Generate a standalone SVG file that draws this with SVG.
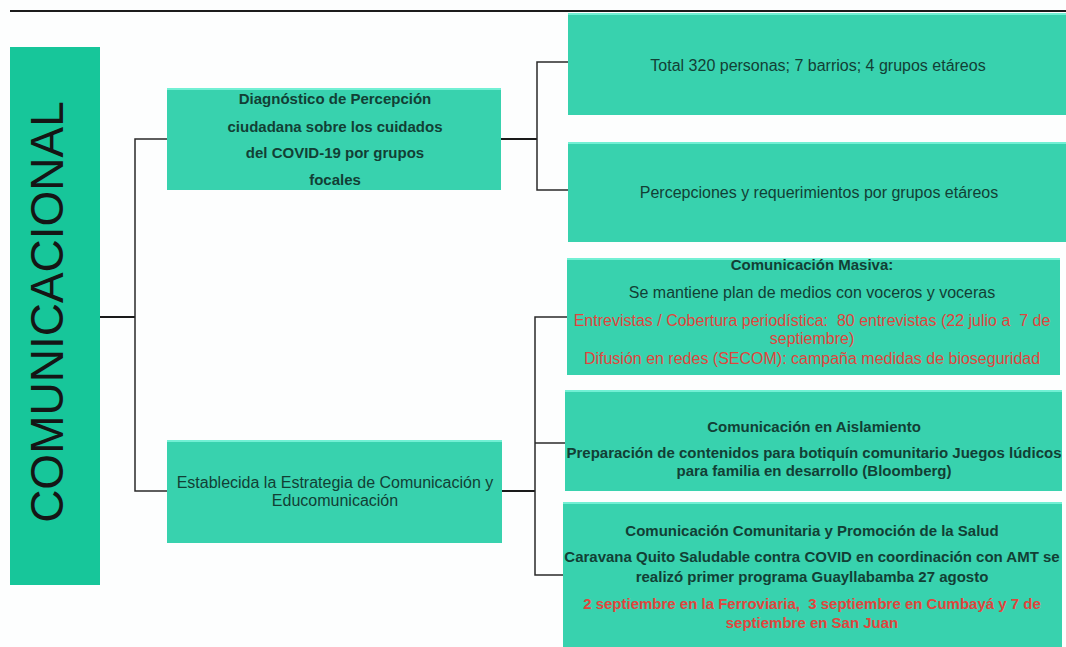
<svg xmlns="http://www.w3.org/2000/svg" width="1066" height="647" viewBox="0 0 1066 647">
<style>
.bg{fill:#fdfefe}
.box{fill:#38d2ae}
.hl{stroke:#72f0d4;stroke-width:2}
.t{font-family:"Liberation Sans",Arial,sans-serif;font-size:16px;fill:#123f35;text-anchor:middle}
.b{font-weight:bold;font-size:15px}
.r{fill:#e0453d}
.c{fill:none;stroke:#2a2a2a;stroke-width:1.5}
.c2{fill:none;stroke:#1a1a1a;stroke-width:2.2}
</style>
<rect class="bg" x="0" y="0" width="1066" height="647"/>
<line x1="10" y1="11" x2="1066" y2="11" stroke="#1c1c1c" stroke-width="2"/>
<g id="connectors">
  <line class="c2" x1="100" y1="317" x2="135" y2="317"/>
  <path class="c" d="M167,139 H135 V491 H167"/>
  <line class="c2" x1="501" y1="139" x2="537" y2="139"/>
  <path class="c" d="M568,62 H537 V190 H568"/>
  <line class="c2" x1="502" y1="491" x2="535" y2="491"/>
  <path class="c" d="M567,317 H535 V575 H563"/>
  <line class="c" x1="535" y1="443" x2="565" y2="443"/>
</g>
<g id="root">
  <rect x="10" y="47" width="90" height="538" fill="#17c69a"/>
  <text transform="translate(63,312) rotate(-90)" font-family="'Liberation Sans',Arial,sans-serif" font-size="46" fill="#151515" text-anchor="middle">COMUNICACIONAL</text>
</g>
<g id="diagnostico">
  <rect class="box" x="167" y="88" width="334" height="102"/>
  <line class="hl" x1="167" y1="89" x2="501" y2="89"/>
  <text class="t b" x="335" y="104">Diagnóstico de Percepción</text>
  <text class="t b" x="335" y="132">ciudadana sobre los cuidados</text>
  <text class="t b" x="335" y="158">del COVID-19 por grupos</text>
  <text class="t b" x="335" y="185">focales</text>
</g>
<g id="estrategia">
  <rect class="box" x="167" y="440" width="335" height="103"/>
  <line class="hl" x1="167" y1="441" x2="502" y2="441"/>
  <text class="t" x="335" y="488">Establecida la Estrategia de Comunicación y</text>
  <text class="t" x="335" y="506">Educomunicación</text>
</g>
<g id="total">
  <rect class="box" x="568" y="13" width="498" height="102"/>
  <line class="hl" x1="568" y1="14" x2="1066" y2="14"/>
  <text class="t" x="818" y="71">Total 320 personas; 7 barrios; 4 grupos etáreos</text>
</g>
<g id="percepciones">
  <rect class="box" x="568" y="142" width="498" height="100"/>
  <line class="hl" x1="568" y1="143" x2="1066" y2="143"/>
  <text class="t" x="819" y="198">Percepciones y requerimientos por grupos etáreos</text>
</g>
<g id="masiva">
  <rect class="box" x="567" y="258" width="493" height="117"/>
  <line class="hl" x1="567" y1="259" x2="1060" y2="259"/>
  <text class="t b" x="812" y="270">Comunicación Masiva:</text>
  <text class="t" x="812" y="298">Se mantiene plan de medios con voceros y voceras</text>
  <text class="t r" x="812" y="326" xml:space="preserve">Entrevistas / Cobertura periodística:  80 entrevistas (22 julio a  7 de</text>
  <text class="t r" x="812" y="344">septiembre)</text>
  <text class="t r" x="812" y="364">Difusión en redes (SECOM): campaña medidas de bioseguridad</text>
</g>
<g id="aislamiento">
  <rect class="box" x="565" y="390" width="497" height="101"/>
  <line class="hl" x1="565" y1="391" x2="1062" y2="391"/>
  <text class="t b" x="814" y="432">Comunicación en Aislamiento</text>
  <text class="t b" x="814" y="458">Preparación de contenidos para botiquín comunitario Juegos lúdicos</text>
  <text class="t b" x="814" y="476">para familia en desarrollo (Bloomberg)</text>
</g>
<g id="comunitaria">
  <rect class="box" x="563" y="502" width="499" height="145"/>
  <line class="hl" x1="563" y1="503" x2="1062" y2="503"/>
  <text class="t b" x="812" y="536">Comunicación Comunitaria y Promoción de la Salud</text>
  <text class="t b" x="812" y="562">Caravana Quito Saludable contra COVID en coordinación con AMT se</text>
  <text class="t b" x="812" y="582">realizó primer programa Guayllabamba 27 agosto</text>
  <text class="t b r" x="812" y="609" xml:space="preserve">2 septiembre en la Ferroviaria,  3 septiembre en Cumbayá y 7 de</text>
  <text class="t b r" x="812" y="628">septiembre en San Juan</text>
</g>
</svg>
